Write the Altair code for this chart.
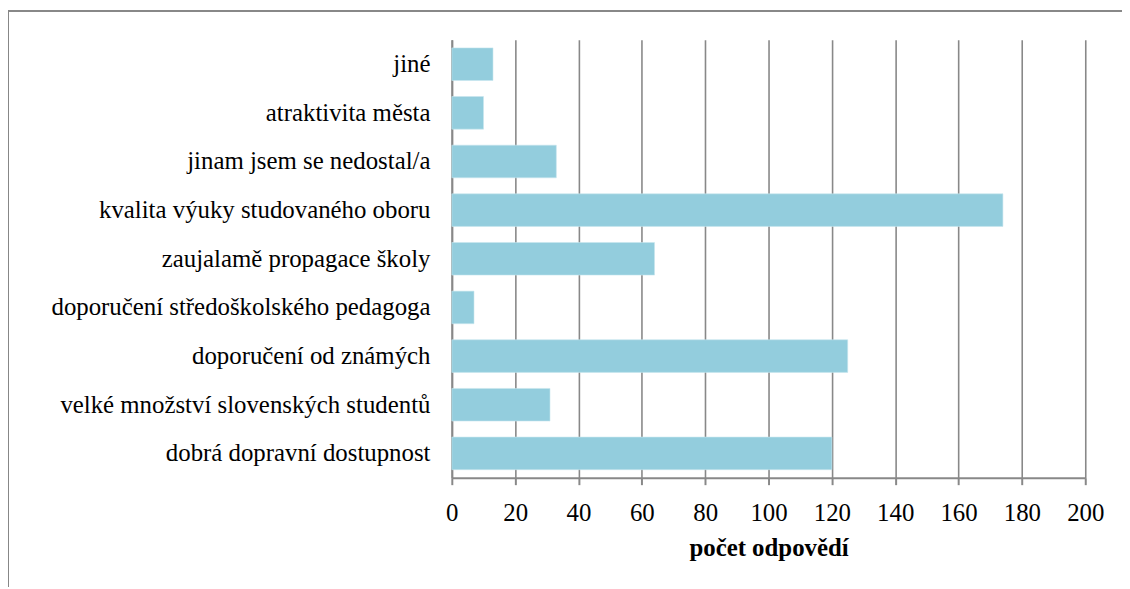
import altair as alt
import pandas as pd

categories = [
    "jiné",
    "atraktivita města",
    "jinam jsem se nedostal/a",
    "kvalita výuky studovaného oboru",
    "zaujalamě propagace školy",
    "doporučení středoškolského pedagoga",
    "doporučení od známých",
    "velké množství slovenských studentů",
    "dobrá dopravní dostupnost",
]
values = [13, 10, 33, 174, 64, 7, 125, 31, 120]
x_ticks = [0, 20, 40, 60, 80, 100, 120, 140, 160, 180, 200]
x_title = "počet odpovědí"

df = pd.DataFrame({"kategorie": categories, "pocet": values})

FONT = "Liberation Serif, Times New Roman, serif"
W, H = 638, 441
PL, PT, PR, PB = 447, 30, 37, 110

bars = alt.Chart(df).mark_bar(color="#93CDDD", stroke="#C8E6EE", strokeWidth=0.6).encode(
    x=alt.X(
        "pocet:Q",
        scale=alt.Scale(domain=[0, 200], nice=False, zero=True),
        axis=alt.Axis(
            values=x_ticks,
            title=x_title,
            titleFont=FONT,
            titleFontSize=25,
            titleFontWeight="bold",
            titleColor="black",
            titlePadding=10,
            labelFont=FONT,
            labelFontSize=25,
            labelColor="black",
            labelPadding=16,
            labelFlush=False,
            labelOverlap=False,
            tickSize=7,
            tickColor="#888888",
            tickWidth=2,
            domainColor="#888888",
            domainWidth=2,
            grid=True,
            gridColor="#888888",
            gridWidth=1.6,
        ),
    ),
    y=alt.Y(
        "kategorie:N",
        sort=categories,
        scale=alt.Scale(paddingInner=0.33, paddingOuter=0.165),
        axis=alt.Axis(
            title=None,
            labelFont=FONT,
            labelFontSize=25,
            labelColor="black",
            labelPadding=22,
            labelLimit=500,
            ticks=False,
            domainColor="#888888",
            domainWidth=2,
            grid=False,
        ),
    ),
)

frame_top = alt.Chart(df).mark_rule(color="#888888", strokeWidth=2).encode(
    x=alt.value(-PL), x2=alt.value(W + PR), y=alt.value(1 - PT)
)
frame_left = alt.Chart(df).mark_rule(color="#888888", strokeWidth=2).encode(
    x=alt.value(-PL), y=alt.value(-PT), y2=alt.value(H + PB)
)

chart = (
    alt.layer(bars, frame_top, frame_left)
    .properties(
        width=W,
        height=H,
        padding={"left": PL, "top": PT, "right": PR, "bottom": PB},
        autosize=alt.AutoSizeParams(type="none"),
        background="white",
    )
    .configure_view(stroke=None)
)

chart.save("out.html", embed_options={"renderer": "svg", "actions": False})
